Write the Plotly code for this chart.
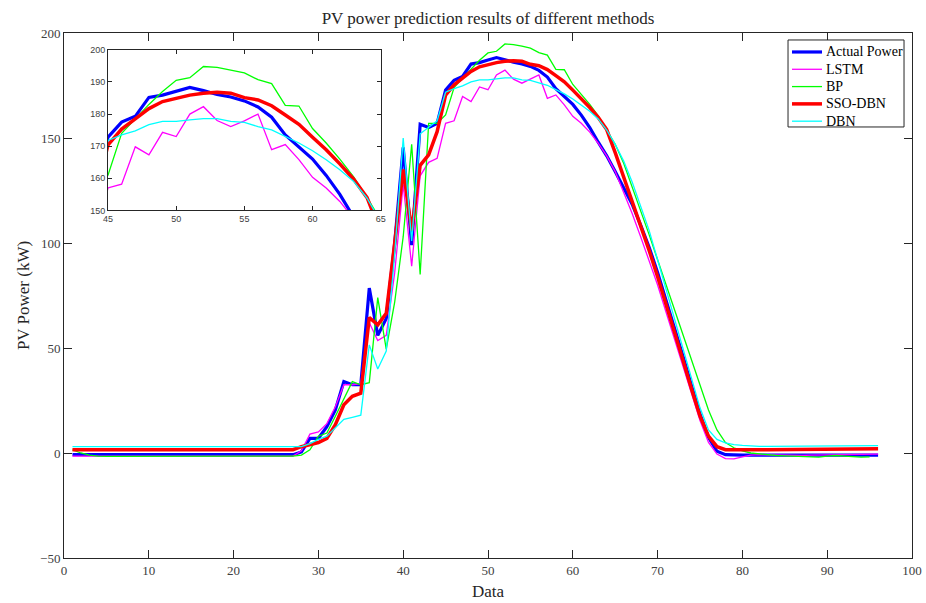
import plotly.graph_objects as go

x_vals = list(range(1, 97))

actual = [-0.8]*27 + [
    0.5, 7, 7, 12.5, 20.5, 34, 32.5, 32.5, 78.5, 56,
    64, 100, 145.5, 99, 156.5, 155, 157, 172.8, 177.5, 179.3,
    185.2, 185.9, 187.1, 188.3, 187.3, 186.1, 185.3, 184.1, 182.2, 179.0,
    173.5, 169.9, 166.0, 160.9, 155.0, 148.0, 141.5, 134.0, 126.5, 118.5,
    108.5, 98, 86, 73, 60, 46, 32, 18.5, 7.5, 0.8,
    -0.8, -1, -1, -1, -1, -1, -1, -1, -1, -1,
    -1, -1, -1, -1, -1, -1, -1, -1, -1]

lstm = [-1.5]*27 + [
    1, 9, 10, 14, 22, 32.5, 32.5, 33, 62, 53.5,
    56, 86, 128, 89, 132, 138.4, 140.3, 157.0, 158.2, 169.8,
    167.3, 174.3, 173.0, 180.0, 182.3, 178.0, 176.1, 177.9, 180.0, 168.9,
    170.5, 165.8, 160.3, 157.0, 152.8, 147.5, 141.5, 134, 124, 114,
    103, 92, 80, 67, 54, 41, 28, 15.5, 5, -0.5,
    -2.7, -2.8, -1.8, -1, -0.8, -0.9, -1, -1.2, -1.3, -1.2,
    -1, -0.9, -0.8, -0.8, -0.7, -0.6, -0.5, -0.5, -0.5]

bp = [1.5, 0, -1, -1.5, -1.6, -1.6, -1.7, -1.7, -1.7, -1.6,
      -1.6, -1.6, -1.8, -1.7, -1.6, -1.6, -1.6, -1.7, -1.7, -1.7,
      -1.6, -1.6, -1.6, -1.5, -1.5, -1.5, -1.5] + [
    -1, 1.5, 8, 9.5, 17.5, 25.5, 34, 32.5, 33.5, 74,
    49.5, 72, 103, 147, 85, 157, 157, 161, 174, 178.5,
    183, 187, 190.5, 191.3, 194.8, 194.5, 193.7, 192.8, 190.7, 189.5,
    182.7, 182.5, 175.5, 171, 166, 160.5, 154, 147, 138, 127,
    116, 104, 92, 80, 68, 56, 44, 32, 20.5, 11,
    5, 2.5, 1, 0, -0.5, -1, -1.2, -1.4, -1.5, -1.6,
    -1.8, -2, -1.5, -1.2, -1.5, -1.8, -2, -1.8]

sso_dbn = [1.5]*26 + [
    1.6, 3, 4, 5, 7, 13.5, 23, 27, 28.5, 64.5,
    61, 66.5, 100, 135, 106, 137, 142, 153, 170.4, 175.3,
    178.5, 181.7, 183.9, 185.0, 185.9, 186.5, 186.8, 186.5, 185.1, 184.4,
    182.6, 179.7, 176.8, 172.8, 168.9, 164.5, 159.8, 154, 143, 131.5,
    120, 108, 96.5, 84, 71, 57.5, 44, 30.5, 17.5, 8,
    3, 1.6, 1.5, 1.5, 1.5, 1.6, 1.6, 1.6, 1.7, 1.7,
    1.7, 1.8, 1.8, 1.8, 1.9, 1.9, 2, 2, 2, 2]

dbn = [3]*27 + [
    3, 4.5, 6.5, 8, 12, 16, 17, 18, 51.5, 40,
    48.5, 95, 150, 101, 152, 155, 158.2, 171.8, 173.5, 174.8,
    176.7, 177.7, 177.7, 178.2, 178.6, 178.6, 177.7, 177.4, 176.1, 175.1,
    173, 171, 168.6, 165.8, 162.7, 159.1, 153.8, 147, 139, 129,
    118, 106, 92, 78, 64, 50, 35.5, 21.5, 11, 6.5,
    4.8, 4, 3.6, 3.3, 3.2, 3.2, 3.2, 3.2, 3.2, 3.2,
    3.3, 3.3, 3.3, 3.4, 3.4, 3.5, 3.5, 3.5, 3.5]

series_names = ["Actual Power", "LSTM", "BP", "SSO-DBN", "DBN"]
series_data = [actual, lstm, bp, sso_dbn, dbn]
series_colors = ["#0000FF", "#FF00FF", "#00FF00", "#FF0000", "#00FFFF"]
series_widths = [3.2, 1.3, 1.3, 3.5, 1.3]

x_ticks = list(range(0, 101, 10))
y_ticks = list(range(-50, 201, 50))

serif = "Palatino Linotype, Book Antiqua, Palatino, Liberation Serif, serif"
sans = "Liberation Sans, Arial, Helvetica, sans-serif"

FIG_W, FIG_H = 926, 603
M_L, M_R, M_T, M_B = 64, 14, 33, 45
PLOT_W = FIG_W - M_L - M_R
PLOT_H = FIG_H - M_T - M_B

fig = go.Figure()
for name, data, color, w in zip(series_names, series_data, series_colors, series_widths):
    fig.add_trace(go.Scatter(x=x_vals, y=data, mode="lines", name=name, showlegend=False,
                             line=dict(color=color, width=w)))
for name, data, color, w in zip(series_names, series_data, series_colors, series_widths):
    fig.add_trace(go.Scatter(x=x_vals, y=data, mode="lines", name=name, showlegend=False,
                             line=dict(color=color, width=w), xaxis="x2", yaxis="y2"))

# manual legend (MATLAB-style compact box), positioned in plot-area paper coordinates
leg_x0, leg_x1 = 0.8538, 0.9906
leg_y0, leg_y1 = 0.821, 0.9867
row_h = 17.3 / PLOT_H
first_row = leg_y1 - 12.0 / PLOT_H
line_x0, line_x1 = (792 - 64) / PLOT_W, (822 - 64) / PLOT_W
text_x = (824 - 64) / PLOT_W

shapes = [dict(type="rect", xref="paper", yref="paper", x0=leg_x0, x1=leg_x1, y0=leg_y0, y1=leg_y1,
               line=dict(color="#262626", width=1), fillcolor="white", layer="above")]
annotations = []
for i, (name, color, w) in enumerate(zip(series_names, series_colors, series_widths)):
    yy = first_row - i * row_h
    shapes.append(dict(type="line", xref="paper", yref="paper", x0=line_x0, x1=line_x1, y0=yy, y1=yy,
                       line=dict(color=color, width=w), layer="above"))
    annotations.append(dict(text=name, xref="paper", yref="paper", x=text_x, y=yy,
                            xanchor="left", yanchor="middle", showarrow=False,
                            font=dict(family=serif, size=14, color="#000000")))

axis_common = dict(showline=True, linecolor="#262626", linewidth=1, mirror="ticks",
                   ticks="inside", tickcolor="#262626", showgrid=False, zeroline=False,
                   automargin=False)

fig.update_layout(
    width=FIG_W, height=FIG_H,
    paper_bgcolor="white", plot_bgcolor="white",
    margin=dict(l=M_L, r=M_R, t=M_T, b=M_B, autoexpand=False),
    title=dict(text="PV power prediction results of different methods",
               x=(M_L + PLOT_W / 2) / FIG_W, xanchor="center", y=1 - 18 / FIG_H, yanchor="middle",
               font=dict(family=serif, size=17, color="#262626"), automargin=False),
    xaxis=dict(range=[0, 100], tickvals=x_ticks, ticklen=8,
               tickfont=dict(family=serif, size=13, color="#404040"),
               title=dict(text="Data", font=dict(family=serif, size=17, color="#262626"), standoff=8),
               **axis_common),
    yaxis=dict(range=[-50, 200], tickvals=y_ticks, ticklen=8,
               tickfont=dict(family=serif, size=13, color="#404040"),
               title=dict(text="PV Power (kW)", font=dict(family=serif, size=17, color="#262626"), standoff=6),
               **axis_common),
    xaxis2=dict(domain=[0.0519, 0.3735], anchor="y2", range=[45, 65], tickvals=[45, 50, 55, 60, 65],
                ticklen=4, tickfont=dict(family=sans, size=9, color="#404040"), **axis_common),
    yaxis2=dict(domain=[0.662, 0.968], anchor="x2", range=[150, 200],
                tickvals=[150, 160, 170, 180, 190, 200],
                ticklen=4, tickfont=dict(family=sans, size=9, color="#404040"), **axis_common),
    shapes=shapes,
    annotations=annotations,
    showlegend=False,
)

fig.write_html("out.html",
               config={"displayModeBar": False},
               post_script="document.body.style.margin='0';document.body.style.overflow='hidden';")
